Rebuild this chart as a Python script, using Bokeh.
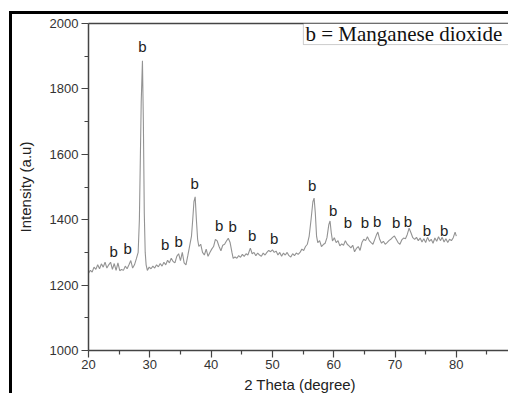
from bokeh.plotting import figure
from bokeh.models import LinearAxis, FixedTicker, BoxAnnotation, Label, ColumnDataSource
from bokeh.core.properties import value
from bokeh.embed import file_html
from bokeh.resources import INLINE

two_theta = [20.0, 20.3, 20.6, 20.9, 21.2, 21.5, 21.8, 22.1, 22.4, 22.7, 23.0, 23.3, 23.6, 23.9,
             24.2, 24.5, 24.8, 25.1, 25.4, 25.7, 26.0, 26.3, 26.6, 26.9, 27.2, 27.5, 27.8, 28.1,
             28.3, 28.45, 28.6, 28.8, 28.95, 29.1, 29.25, 29.4, 29.6, 29.9, 30.2, 30.5, 30.8,
             31.1, 31.4, 31.7, 32.0, 32.3, 32.6, 32.9, 33.2, 33.5, 33.8, 34.1, 34.4, 34.7, 35.0,
             35.3, 35.6, 35.9, 36.2, 36.5, 36.8, 37.0, 37.2, 37.4, 37.6, 37.8, 38.0, 38.3, 38.6,
             38.9, 39.2, 39.5, 39.8, 40.1, 40.4, 40.7, 41.0, 41.3, 41.6, 41.9, 42.2, 42.5, 42.8,
             43.1, 43.4, 43.6, 43.9, 44.2, 44.5, 44.8, 45.1, 45.4, 45.7, 46.0, 46.4, 46.7, 47.0,
             47.3, 47.6, 47.9, 48.2, 48.5, 48.8, 49.1, 49.4, 49.7, 50.0, 50.3, 50.6, 50.9, 51.2,
             51.5, 51.8, 52.1, 52.4, 52.7, 53.0, 53.3, 53.6, 53.9, 54.2, 54.5, 54.8, 55.1, 55.4,
             55.7, 56.0, 56.3, 56.6, 56.8, 57.0, 57.2, 57.4, 57.7, 58.0, 58.3, 58.6, 58.9, 59.2,
             59.4, 59.6, 59.8, 60.1, 60.4, 60.7, 61.0, 61.3, 61.6, 61.9, 62.2, 62.5, 62.8, 63.1,
             63.4, 63.7, 64.0, 64.3, 64.6, 64.9, 65.2, 65.5, 65.8, 66.1, 66.4, 66.7, 67.0, 67.2,
             67.5, 67.8, 68.1, 68.4, 68.7, 69.0, 69.3, 69.6, 69.9, 70.2, 70.5, 70.8, 71.1, 71.4,
             71.7, 72.0, 72.3, 72.6, 72.9, 73.2, 73.5, 73.8, 74.1, 74.4, 74.7, 75.0, 75.3, 75.6,
             75.9, 76.2, 76.5, 76.8, 77.1, 77.4, 77.7, 78.0, 78.3, 78.6, 78.9, 79.2, 79.5, 79.8,
             80.0]
intensity = [1236, 1245, 1240, 1255, 1248, 1262, 1250, 1265, 1255, 1270, 1252, 1262, 1270, 1248,
             1266, 1245, 1268, 1244, 1248, 1245, 1258, 1250, 1262, 1275, 1252, 1262, 1280, 1300,
             1400, 1580, 1760, 1886, 1700, 1420, 1300, 1262, 1245, 1255, 1250, 1258, 1252,
             1262, 1256, 1266, 1258, 1270, 1262, 1276, 1268, 1282, 1272, 1268, 1288, 1296, 1275,
             1300, 1268, 1262, 1290, 1320, 1350, 1400, 1455, 1470, 1400, 1340, 1318, 1325, 1300,
             1292, 1310, 1288, 1300, 1310, 1318, 1340, 1335, 1318, 1305, 1322, 1325, 1335, 1343,
             1330, 1300, 1282, 1286, 1282, 1290, 1285, 1294, 1288, 1296, 1292, 1313, 1296, 1300,
             1290, 1298, 1292, 1288, 1298, 1292, 1300, 1306, 1302, 1308, 1300, 1304, 1292, 1300,
             1288, 1298, 1292, 1300, 1290, 1286, 1296, 1290, 1298, 1294, 1300, 1310, 1306, 1318,
             1325, 1350, 1400, 1455, 1466, 1420, 1350, 1330, 1336, 1318, 1324, 1328, 1345, 1385,
             1396, 1360, 1335, 1345, 1330, 1336, 1320, 1326, 1322, 1336, 1325, 1320, 1314, 1322,
             1302, 1312, 1318, 1306, 1330, 1340, 1336, 1348, 1336, 1330, 1325, 1340, 1355, 1362,
             1340, 1328, 1334, 1325, 1330, 1336, 1340, 1346, 1350, 1340, 1330, 1325, 1338, 1344,
             1342, 1355, 1374, 1360, 1345, 1340, 1346, 1336, 1344, 1332, 1342, 1330, 1346, 1334,
             1340, 1328, 1344, 1334, 1348, 1336, 1346, 1332, 1342, 1330, 1340, 1336, 1345, 1362,
             1350]

peak_x = [24.1, 26.4, 28.8, 32.5, 34.7, 37.3, 41.3, 43.5, 46.7, 50.3, 56.5, 59.9, 62.3, 65.1,
          67.1, 70.2, 72.1, 75.2, 78.0]
peak_y = [1304, 1313, 1929, 1325, 1334, 1510, 1383, 1380, 1353, 1343, 1506, 1429, 1390, 1390,
          1396, 1390, 1393, 1368, 1368]
peak_label = ["b"] * len(peak_x)

x_ticks = [20, 30, 40, 50, 60, 70, 80, 90]
y_ticks = [1000, 1200, 1400, 1600, 1800, 2000]
legend_text = "b = Manganese  dioxide"

p = figure(width=499, height=382, x_range=(20, 89.0), y_range=(1000, 2000),
           output_backend="svg", toolbar_location=None,
           min_border_left=76, min_border_right=0, min_border_top=9, min_border_bottom=46,
           x_axis_label="2 Theta (degree)", y_axis_label="Intensity (a.u)")
p.styles = {"margin-left": "9px", "margin-top": "11px",
            "border-left": "3px solid black", "border-top": "3px solid black"}
p.outline_line_color = None
p.xgrid.visible = False
p.ygrid.visible = False
p.background_fill_color = "white"
p.border_fill_color = "white"

for ax in (p.xaxis[0], p.yaxis[0]):
    ax.axis_line_color = "#444444"
    ax.axis_line_width = 1.5
    ax.major_tick_line_color = "#444444"
    ax.minor_tick_line_color = "#444444"
    ax.major_tick_line_width = 1.2
    ax.minor_tick_line_width = 1.2
    ax.major_tick_in = 0
    ax.major_tick_out = 7
    ax.minor_tick_in = 0
    ax.minor_tick_out = 4
    ax.major_label_text_font = "Liberation Sans"
    ax.major_label_text_font_size = "13px"
    ax.major_label_text_color = "#333333"
    ax.axis_label_text_font = "Liberation Sans"
    ax.axis_label_text_font_size = "15px"
    ax.axis_label_text_font_style = "normal"
    ax.axis_label_text_color = "#222222"

p.xaxis[0].ticker = FixedTicker(ticks=x_ticks, minor_ticks=[t + 5 for t in x_ticks[:-1]])
p.yaxis[0].ticker = FixedTicker(ticks=y_ticks, minor_ticks=[t + 100 for t in y_ticks[:-1]])
p.xaxis[0].major_label_standoff = 2
p.xaxis[0].axis_label_standoff = 4
p.yaxis[0].major_label_standoff = 3
p.yaxis[0].axis_label_standoff = 13

top_axis = LinearAxis(ticker=FixedTicker(ticks=[]), axis_line_color="#444444", axis_line_width=1.5,
                      major_tick_line_color=None, minor_tick_line_color=None)
p.add_layout(top_axis, "above")

src = ColumnDataSource(dict(x=two_theta, y=intensity))
p.line("x", "y", source=src, line_color="#939393", line_width=1.1)

lab = ColumnDataSource(dict(x=peak_x, y=peak_y, t=peak_label))
p.text("x", "y", text="t", source=lab, text_font=value("Liberation Sans"), text_font_size="15px",
       text_color="#222222", text_align="center", text_baseline="middle")

box = BoxAnnotation(left=55.05, right=100, top=2000, bottom=1935.5, fill_color="white",
                    fill_alpha=1.0, line_color="#555555", line_width=1)
p.add_layout(box)
p.add_layout(Label(x=55.4, y=1967, text=legend_text, text_font="Liberation Serif",
                   text_font_size="21px", text_color="#111111", text_baseline="middle"))

open("out.html", "w").write(file_html(p, INLINE))
